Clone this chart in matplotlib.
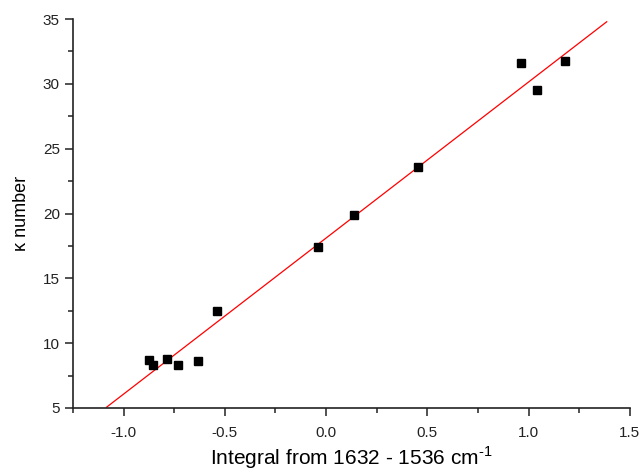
import numpy as np
import matplotlib
matplotlib.use("Agg")
import matplotlib.pyplot as plt
from matplotlib.ticker import MultipleLocator

plt.rcParams['font.family'] = ['Liberation Sans', 'DejaVu Sans']
plt.rcParams['mathtext.fontset'] = 'custom'
plt.rcParams['mathtext.rm'] = 'Liberation Sans'

# integral values and kappa numbers
integral = [-0.876, -0.856, -0.786, -0.733, -0.635, -0.540, -0.040, 0.139, 0.455, 0.961, 1.043, 1.178]
kappa = [8.7, 8.3, 8.8, 8.3, 8.6, 12.5, 17.4, 19.9, 23.6, 31.6, 29.5, 31.8]

# linear fit drawn over the range used in the original
fit_range = [-1.084, 1.386]

fig = plt.figure(figsize=(6.42, 4.72), dpi=100)
ax = fig.add_axes([0.1137, 0.1356, 0.981 - 0.1137, 0.9597 - 0.1356])

slope, icept = np.polyfit(integral, kappa, 1)
fx = np.array(fit_range)
ax.plot(fx, slope * fx + icept, color="red", lw=0.9)
ax.plot(integral, kappa, "s", color="black", ms=6.3, mec="black")

ax.set_xlim(-1.25, 1.5)
ax.set_ylim(5, 35)
ax.xaxis.set_major_locator(MultipleLocator(0.5))
ax.xaxis.set_minor_locator(MultipleLocator(0.25))
ax.yaxis.set_major_locator(MultipleLocator(5))
ax.yaxis.set_minor_locator(MultipleLocator(2.5))
ax.xaxis.set_major_formatter(matplotlib.ticker.FormatStrFormatter("%.1f"))

for s in ["top", "right"]:
    ax.spines[s].set_visible(False)
for s in ["left", "bottom"]:
    ax.spines[s].set_linewidth(1.2)
    ax.spines[s].set_color("#222222")

ax.tick_params(which="major", direction="out", length=6, width=1.1, labelsize=11, colors="#222222")
ax.tick_params(which="minor", direction="out", length=3.5, width=1.1, colors="#222222")
ax.tick_params(axis="x", pad=7)

ax.set_xlabel("Integral from 1632 - 1536 cm$^{\\mathregular{\u2010}\\mathregular{1}}$", fontsize=15, labelpad=3)
ax.set_ylabel("κ number", fontsize=13, labelpad=9)

fig.savefig("out.png", dpi=100)
